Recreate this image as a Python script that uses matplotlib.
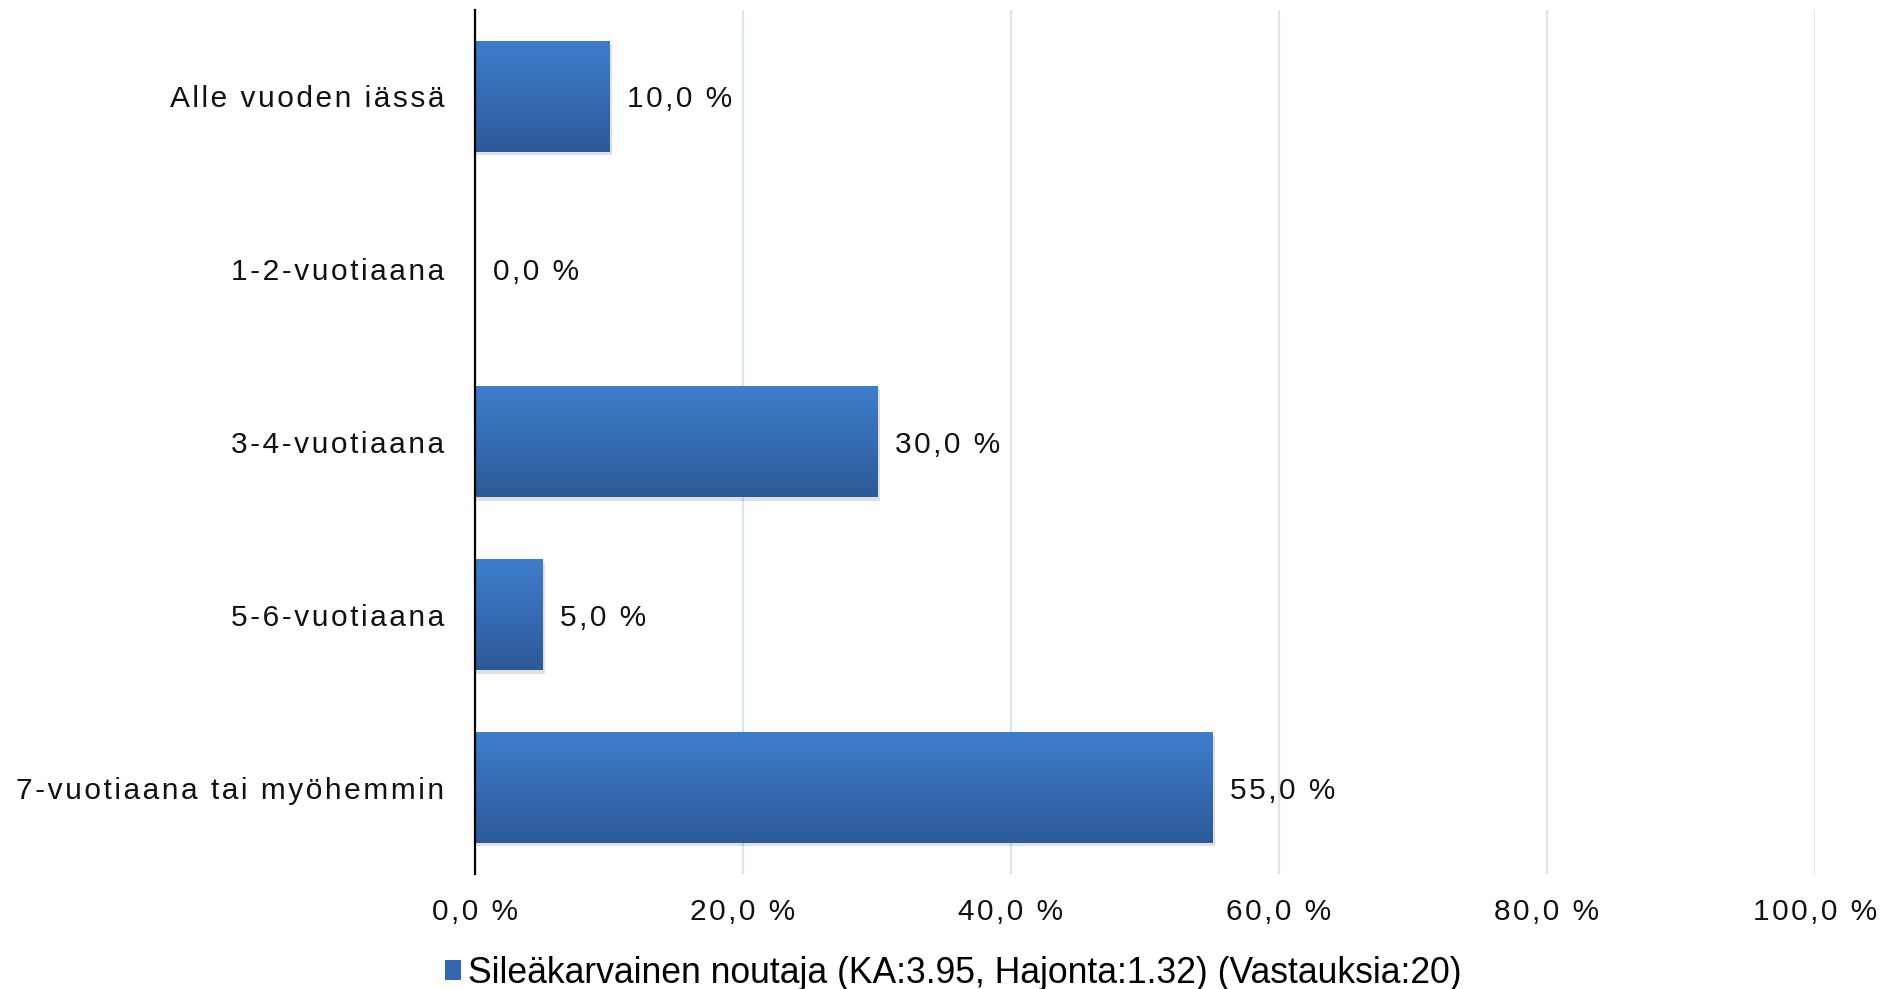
import numpy as np
import matplotlib.pyplot as plt
from matplotlib.colors import LinearSegmentedColormap
from matplotlib.patches import Rectangle

plt.rcParams["font.family"] = ["Liberation Sans", "DejaVu Sans"]

categories = ["Alle vuoden iässä", "1-2-vuotiaana", "3-4-vuotiaana", "5-6-vuotiaana",
              "7-vuotiaana tai myöhemmin"]
values = [10.0, 0.0, 30.0, 5.0, 55.0]
xticks = [0, 20, 40, 60, 80, 100]
legend_label = "Sileäkarvainen noutaja (KA:3.95, Hajonta:1.32) (Vastauksia:20)"


def spaced(s, sep="\u200a"):
    return sep.join(s)


fig = plt.figure(figsize=(18.99, 9.89), dpi=100)
ax = fig.add_axes([0.2501, 0.1163, 0.7057, 0.8736])

grad = LinearSegmentedColormap.from_list("bar", ["#3E7DCD", "#2C5A98"])
g = np.linspace(0, 1, 256).reshape(-1, 1)
bar_h = 0.64
ypos = np.arange(len(categories))

for y, v in zip(ypos, values):
    if v <= 0:
        continue
    # soft shadow
    ax.add_patch(Rectangle((0, y - bar_h / 2 + 0.02), v + 0.25, bar_h, color="#000000",
                           alpha=0.12, lw=0, zorder=2))
    ax.imshow(g, extent=[0, v, y + bar_h / 2, y - bar_h / 2], cmap=grad, aspect="auto",
              zorder=3, interpolation="bicubic")

for y, v in zip(ypos, values):
    lab = f"{v:.1f}".replace(".", ",") + " %"
    ax.annotate(spaced(lab), (v, y), xytext=(13, 0), textcoords="offset points",
                ha="left", va="center_baseline", fontsize=21.5, color="#111111", zorder=5)

ax.set_xlim(0, 100)
ax.set_ylim(len(categories) - 0.5, -0.5)
ax.set_xticks(xticks)
ax.set_xticklabels([spaced(f"{t:.1f}".replace(".", ",") + " %") for t in xticks], fontsize=21.5)
ax.set_yticks(ypos)
ax.set_yticklabels([spaced(c) for c in categories], fontsize=21.5)
ax.tick_params(axis="both", length=0, colors="#111111")
ax.tick_params(axis="x", pad=17)
ax.tick_params(axis="y", pad=22)

for t in xticks[1:]:
    ax.axvline(t, color="#DCE4EF", lw=1.6, zorder=1)

for s in ["top", "right", "bottom"]:
    ax.spines[s].set_visible(False)
ax.spines["left"].set_color("black")
ax.spines["left"].set_linewidth(1.6)
ax.spines["left"].set_zorder(6)

handle = Rectangle((0, 0), 1, 1, facecolor="#3567B0")
fig.legend([handle], [legend_label], loc="center", bbox_to_anchor=(0.502, 0.016),
           frameon=False, fontsize=25.6, handlelength=0.45, handleheight=0.45, handletextpad=0.2)

fig.savefig("out.png", dpi=100)
